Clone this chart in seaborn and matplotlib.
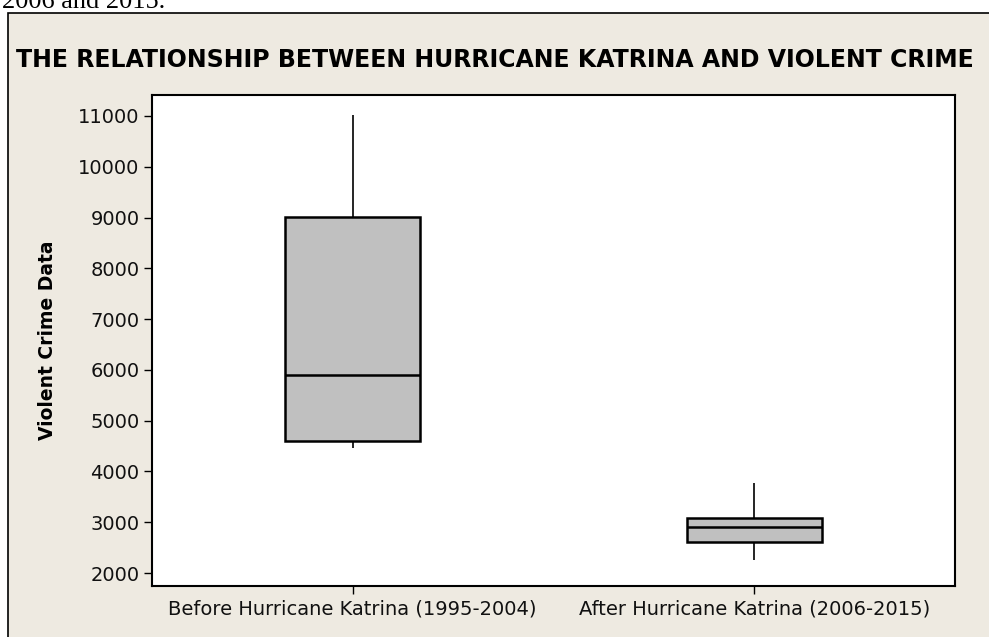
import matplotlib
matplotlib.use('Agg')
import matplotlib.pyplot as plt
import matplotlib.patches as patches
import numpy as np
import pandas as pd
import seaborn as sns

# five-number summaries (min, Q1, median, Q3, max)
before_katrina = [4470, 4600, 5890, 9020, 11020]
after_katrina = [2255, 2615, 2900, 3090, 3780]
group_labels = ['Before Hurricane Katrina (1995-2004)', 'After Hurricane Katrina (2006-2015)']
y_ticks = [2000, 3000, 4000, 5000, 6000, 7000, 8000, 9000, 10000, 11000]

df = pd.DataFrame({
    'period': [group_labels[0]] * len(before_katrina) + [group_labels[1]] * len(after_katrina),
    'crime': before_katrina + after_katrina,
})

sns.set_style('white')
plt.rcParams['font.family'] = ['DejaVu Sans']
plt.rcParams['text.color'] = 'black'

W, H = 989, 637
fig = plt.figure(figsize=(W / 100, H / 100), dpi=100, facecolor='white')

# minitab style beige frame (cropped on right and bottom)
frame = patches.Rectangle((8 / W, -0.1), 1.2, 1 - 13 / H + 0.1, transform=fig.transFigure,
                          facecolor='#EEEAE1', edgecolor='black', linewidth=1.2, zorder=-1)
fig.patches.append(frame)

# leftover text of the page above the chart
fig.text(2 / W, 1 - 8 / H, '2006 and 2015.', family='Liberation Serif', fontsize=19,
         ha='left', va='baseline')

ax = fig.add_axes([152 / W, 1 - 586 / H, (955 - 152) / W, (586 - 95) / H])
ax.set_zorder(2)
ax.set_facecolor('white')

sns.boxplot(data=df, x='period', y='crime', ax=ax, whis=(0, 100), width=0.337,
            showcaps=False, color='#C0C0C0', linecolor='black', linewidth=1.8,
            whiskerprops={'linewidth': 1.2}, fliersize=0)
for p in ax.patches:
    p.set_facecolor('#C0C0C0')

ax.set_xlim(-0.5, 1.5)
ax.set_ylim(1744, 11413)
ax.set_yticks(y_ticks)
ax.set_yticklabels([str(t) for t in y_ticks])
ax.tick_params(axis='both', which='both', direction='out', length=6, width=1,
               color='black', labelsize=14, labelcolor='#111111', left=True, bottom=True)
ax.tick_params(axis='y', pad=3)
ax.tick_params(axis='x', pad=4)
for s in ax.spines.values():
    s.set_visible(True)
    s.set_color('black')
    s.set_linewidth(1.5)
ax.set_xlabel('')
ax.set_ylabel('')

fig.text(0.5, 1 - 60 / H, 'THE RELATIONSHIP BETWEEN HURRICANE KATRINA AND VIOLENT CRIME',
         ha='center', va='center', fontsize=17, fontweight='bold')
fig.text(48 / W, 1 - 340 / H, 'Violent Crime Data', rotation=90, ha='center', va='center',
         fontsize=13.5, fontweight='bold')

fig.savefig('out.png', dpi=100, facecolor='white')
